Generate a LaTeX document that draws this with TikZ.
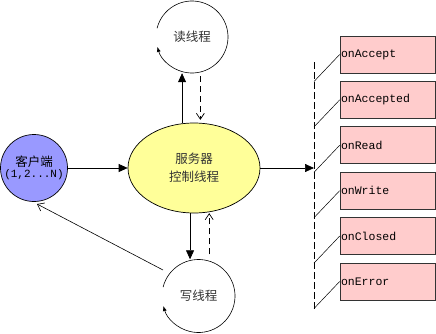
\documentclass[tikz,border=0pt]{standalone}
\usepackage{fontspec}
\newfontfamily\cjk{Noto Sans CJK SC}
\newfontfamily\mono{Liberation Mono}
\usetikzlibrary{arrows.meta,calc,shapes.geometric}
\definecolor{clientblue}{HTML}{9999FF}
\definecolor{serveryellow}{HTML}{FFFF99}
\definecolor{boxpink}{HTML}{FFCCCC}
\definecolor{txtgray}{HTML}{333333}
\begin{document}
\begin{tikzpicture}[x=1pt,y=1pt,
  lw/.style={line width=0.7pt},
  solidarr/.style={lw, -{Triangle[length=9pt,width=8pt]}},
  openarr/.style={lw, dash pattern=on 6pt off 4pt, -{Straight Barb[length=6pt,width=8pt]}},
  thinarr/.style={line width=0.6pt, -{Straight Barb[length=6pt,width=9pt]}},
  loopstyle/.style={line width=0.6pt, -{Latex[length=5pt,width=4pt]}},
  fnbox/.style={draw=black!80, lw, fill=boxpink, minimum width=95, minimum height=37,
    text width=93, align=left, inner sep=1pt, font=\mono\fontsize{11.5}{13}\selectfont},
  cjkfont/.style={font=\cjk\fontsize{12.5}{18}\selectfont}
]
\path[fill=white, use as bounding box] (0,0) rectangle (436,333);

% client
\node[circle, draw, lw, fill=clientblue, minimum size=67, inner sep=0, align=center] (cl) at (34,165)
  {{\cjk\fontsize{12.5}{17}\selectfont 客户端}\\[-1pt]{\mono\fontsize{11}{14}\selectfont (1,2...N)}};

% server
\node[ellipse, draw, lw, fill=serveryellow, minimum width=132, minimum height=90, inner sep=0,
  align=center, cjkfont, text=txtgray] (sv) at (194,165) {服务器\\控制线程};

% read / write threads
\node[circle, minimum size=72, inner sep=0, cjkfont, text=txtgray] (rd) at (192,296) {读线程};
\node[circle, minimum size=73, inner sep=0, cjkfont, text=txtgray] (wr) at (198.5,37) {写线程};
\draw[loopstyle] ([shift={(166:36)}]rd.center) arc[start angle=166, end angle=-164, radius=36];
\draw[loopstyle] ([shift={(166:36.5)}]wr.center) arc[start angle=166, end angle=-164, radius=36.5];

% arrows server <-> threads
\draw[solidarr] (sv.105) -- (sv.105 |- rd.south);
\draw[openarr, shorten <=3pt, shorten >=3pt] (sv.82 |- rd.south) -- (sv.82);
\draw[solidarr] (sv.265) -- (sv.265 |- wr.north);
\draw[openarr, shorten <=5pt, shorten >=1pt] (sv.289 |- wr.north) -- (sv.289);

% client <-> server
\draw[solidarr] (cl) -- (sv);
\coordinate (wrout) at (163,63);
\coordinate (clin) at (37,129);
\draw[thinarr] (wrout) -- (clin);

% dashed bus
\coordinate (dtop) at (314,271);
\coordinate (dbot) at (314,24.5);
\coordinate (dmid) at (314,165);
\draw[lw, dash pattern=on 7pt off 3pt] (dtop) -- (dbot);
\draw[solidarr] (sv) -- (dmid);

% event boxes
\foreach \i/\t in {1/onAccept,2/onAccepted,3/onRead,4/onWrite,5/onClosed,6/onError}{
  \node[fnbox] (b\i) at (387.5,{278.5-45.4*(\i-1)}) {\t};
  \coordinate (d\i) at (314,{251.5-45.4*(\i-1)});
  \draw[line width=0.5pt] (b\i.west) -- (d\i);
}
\end{tikzpicture}
\end{document}
